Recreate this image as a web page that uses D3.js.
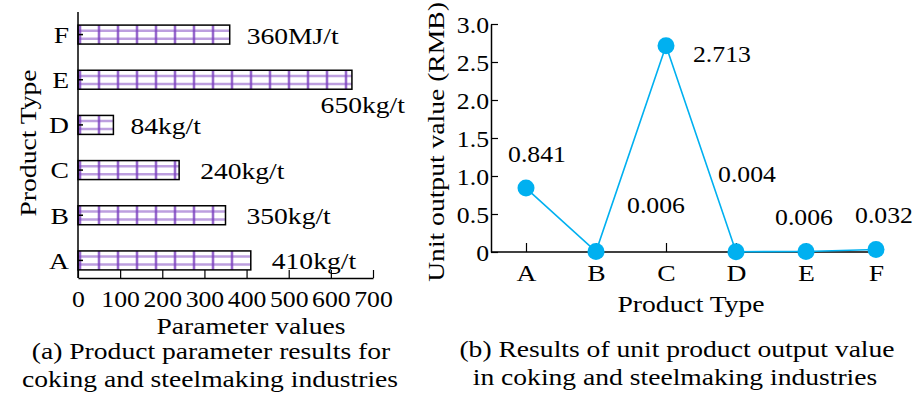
<!DOCTYPE html>
<html>
<head>
<meta charset="utf-8">
<script src="https://cdn.jsdelivr.net/npm/d3@7"></script>
<style>
body{margin:0;background:#fff;}
text{font-family:"Liberation Serif","Times New Roman",serif;fill:#000;}
</style>
</head>
<body>
<div class="container"></div>
<script>
// data
var categories = ["A","B","C","D","E","F"];
var paramValues = [410,350,240,84,650,360];
var paramLabels = ["410kg/t","350kg/t","240kg/t","84kg/t","650kg/t","360MJ/t"];
var paramTicks = [0,100,200,300,400,500,600,700];
var outputValues = [0.841,0.006,2.713,0.004,0.006,0.032];
var outputLabels = ["0.841","0.006","2.713","0.004","0.006","0.032"];
var outputTicks = [0,0.5,1.0,1.5,2.0,2.5,3.0];

const W = 923, H = 393;
const FS = 23;
const PURPLE = "#7b3fbf";
const BLUE = "#00b0f0";

var svg = d3.select('.container').append('svg').attr("width",W).attr("height",H);

// widen glyphs horizontally around their anchor point
var stretch = function(sel, s){
  sel.each(function(){
    var t = d3.select(this);
    var x = +t.attr("x") || 0;
    var prev = t.attr("transform") || "";
    t.attr("transform", prev+" translate("+x+",0) scale("+s+",1) translate("+(-x)+",0)");
  });
};

// ---------- (a) bar chart ----------
var xA = d3.scaleLinear().domain([0,700]).range([78,373]);
var yA = d3.scaleBand().domain(categories).range([283,12]).paddingInner(0.58).paddingOuter(0.29);
const axisYA = 278;

var gA = svg.append("g");

var bars = gA.selectAll(".bar").data(categories).enter().append("g").attr("class","bar");

bars.each(function(c,i){
  var g = d3.select(this);
  var x0 = xA(0), x1 = xA(paramValues[i]);
  var top = yA(c), bh = yA.bandwidth();
  g.append("rect").attr("x",x0).attr("y",top).attr("width",x1-x0).attr("height",bh).attr("fill","#fff");
  // purple grid
  d3.range(x0+2, x1, 19).forEach(function(lx){
    g.append("line").attr("x1",lx).attr("x2",lx).attr("y1",top).attr("y2",top+bh)
      .attr("stroke",PURPLE).attr("stroke-width",3).attr("stroke-opacity",0.45);
    g.append("line").attr("x1",lx).attr("x2",lx).attr("y1",top).attr("y2",top+bh)
      .attr("stroke",PURPLE).attr("stroke-width",1.2);
  });
  [0.3,0.72].forEach(function(f){
    g.append("line").attr("x1",x0).attr("x2",x1).attr("y1",top+bh*f).attr("y2",top+bh*f)
      .attr("stroke",PURPLE).attr("stroke-width",2.5).attr("stroke-opacity",0.5);
  });
  g.append("rect").attr("x",x0).attr("y",top).attr("width",x1-x0).attr("height",bh)
    .attr("fill","none").attr("stroke","#000").attr("stroke-width",1.5);
});

// bar value labels (E sits below its bar)
var labelPosA = [[21,9,"start"],[21,9,"start"],[21,9,"start"],[17,9,"start"],[53,33,"end"],[17,9,"start"]];
gA.selectAll(".vlab").data(categories).enter().append("text").attr("class","wide")
  .attr("x",function(c,i){return xA(paramValues[i])+labelPosA[i][0];})
  .attr("y",function(c,i){return yA(c)+yA.bandwidth()/2+labelPosA[i][1];})
  .attr("text-anchor",function(c,i){return labelPosA[i][2];})
  .attr("font-size",FS)
  .text(function(c,i){return paramLabels[i];});

// axes
var xAxisA = d3.axisBottom(xA).tickValues(paramTicks).tickSizeInner(-8).tickSizeOuter(0).tickPadding(13);
var gxA = gA.append("g").attr("transform","translate(0,"+axisYA+")").call(xAxisA);
gxA.select(".domain").attr("stroke-width",1.5);
gxA.selectAll(".tick line").attr("stroke-width",1.2);
gxA.selectAll("text").attr("font-size",FS).attr("font-family",null).attr("class","num");

var yAxisA = d3.axisLeft(yA).tickSizeInner(-5).tickSizeOuter(0).tickPadding(9);
var gyA = gA.append("g").attr("transform","translate(78,0)").call(yAxisA);
gyA.select(".domain").remove();
gyA.selectAll(".tick line").attr("stroke-width",1.5);
gyA.selectAll("text").attr("font-size",FS).attr("font-family",null).attr("dy","0.36em").attr("class","wide");
gA.append("line").attr("x1",78).attr("x2",78).attr("y1",12).attr("y2",axisYA)
  .attr("stroke","#000").attr("stroke-width",1.5);

gA.append("text").attr("class","wide").attr("transform","translate(36,143) rotate(-90)").attr("text-anchor","middle")
  .attr("font-size",FS).text("Product Type");
gA.append("text").attr("class","wide").attr("x",251).attr("y",334).attr("text-anchor","middle")
  .attr("font-size",FS).text("Parameter values");
gA.append("text").attr("class","wide").attr("x",211).attr("y",359).attr("text-anchor","middle")
  .attr("font-size",FS).text("(a) Product parameter results for");
gA.append("text").attr("class","wide").attr("x",210).attr("y",387).attr("text-anchor","middle")
  .attr("font-size",FS).text("coking and steelmaking industries");

// ---------- (b) line chart ----------
var xB = d3.scalePoint().domain(categories).range([526,876]);
var yB = d3.scaleLinear().domain([0,3]).range([252,24]);
var gB = svg.append("g");

var yAxisB = d3.axisLeft(yB).tickValues(outputTicks).tickSizeInner(-7).tickSizeOuter(0).tickPadding(2)
  .tickFormat(function(d){return d===0 ? "0" : d3.format(".1f")(d);});
var gyB = gB.append("g").attr("transform","translate(491,0)").call(yAxisB);
gyB.select(".domain").attr("stroke-width",1.5);
gyB.selectAll(".tick line").attr("stroke-width",1.2);
gyB.selectAll("text").attr("font-size",FS).attr("font-family",null).attr("dy","0.36em").attr("class","num");

var xAxisB = d3.axisBottom(xB).tickSizeInner(-9).tickSizeOuter(0).tickPadding(13);
var gxB = gB.append("g").attr("transform","translate(0,252)").call(xAxisB);
gxB.select(".domain").attr("d","M491,0H876").attr("stroke-width",1.5);
gxB.selectAll(".tick line").attr("stroke-width",1.2);
gxB.selectAll("text").attr("font-size",FS).attr("font-family",null).attr("class","wide");

var line = d3.line().x(function(d,i){return xB(categories[i]);}).y(function(d){return yB(d);});
gB.append("path").datum(outputValues).attr("d",line).attr("fill","none")
  .attr("stroke",BLUE).attr("stroke-width",1.6);

gB.selectAll(".dot").data(outputValues).enter().append("circle")
  .attr("cx",function(d,i){return xB(categories[i]);})
  .attr("cy",function(d){return yB(d);})
  .attr("r",8.5).attr("fill",BLUE);

var labelPosB = [[11,-26,"middle"],[60,-39,"middle"],[27,16,"start"],[11,-70,"middle"],[-2,-27,"middle"],[8,-27,"middle"]];
gB.selectAll(".plab").data(outputValues).enter().append("text").attr("class","num")
  .attr("x",function(d,i){return xB(categories[i])+labelPosB[i][0];})
  .attr("y",function(d){return yB(d);})
  .attr("dy",function(d,i){return labelPosB[i][1];})
  .attr("text-anchor",function(d,i){return labelPosB[i][2];})
  .attr("font-size",FS)
  .text(function(d,i){return outputLabels[i];});

gB.append("text").attr("class","wide").attr("transform","translate(444,142) rotate(-90)").attr("text-anchor","middle")
  .attr("font-size",FS).text("Unit output value (RMB)");
gB.append("text").attr("class","wide").attr("x",691).attr("y",312).attr("text-anchor","middle")
  .attr("font-size",FS).text("Product Type");
gB.append("text").attr("class","wide").attr("x",677).attr("y",357).attr("text-anchor","middle")
  .attr("font-size",FS).text("(b) Results of unit product output value");
gB.append("text").attr("class","wide").attr("x",675).attr("y",385).attr("text-anchor","middle")
  .attr("font-size",FS).text("in coking and steelmaking industries");

stretch(svg.selectAll("text.wide"), 1.2);
stretch(svg.selectAll("text.num"), 1.12);
</script>
</body>
</html>
